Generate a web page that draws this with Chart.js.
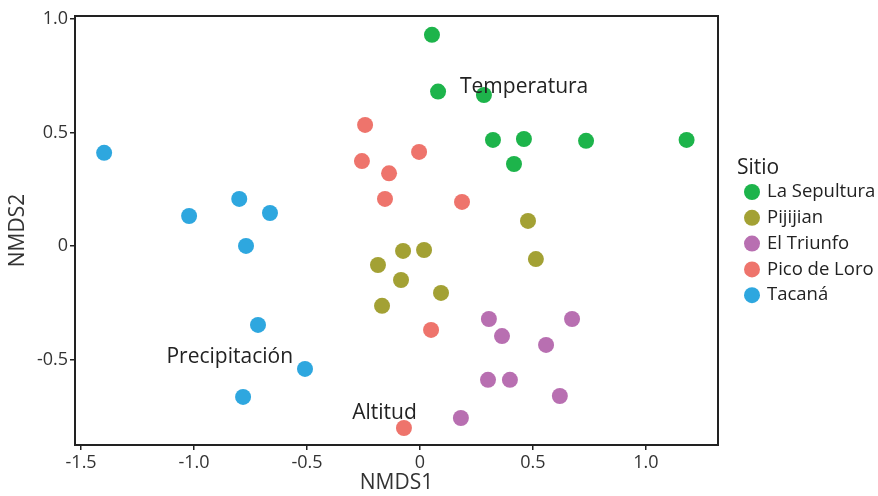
<!DOCTYPE html>
<html>
<head>
<meta charset="utf-8">
<script src="https://cdn.jsdelivr.net/npm/chart.js@4.4.1/dist/chart.umd.min.js"></script>
<style>
  html, body { margin: 0; padding: 0; background: #fff; }
  #wrap { width: 878px; height: 496px; }
</style>
</head>
<body>
<div id="wrap"><canvas id="nmds" width="878" height="496"></canvas></div>
<script>
// Sites and their colours (legend order)
const sites = ['La Sepultura', 'Pijijian', 'El Triunfo', 'Pico de Loro', 'Tacaná'];
const siteColors = ['#1db44b', '#a3a134', '#b86fb1', '#ee746c', '#2ea7df'];

// NMDS scores
const sepulturaX = [0.053, 0.08, 0.283, 0.323, 0.46, 0.735, 0.416, 1.18];
const sepulturaY = [0.93, 0.68, 0.665, 0.467, 0.471, 0.463, 0.361, 0.467];
const pijijianX = [0.478, -0.186, -0.075, 0.018, 0.513, -0.084, 0.093, -0.168];
const pijijianY = [0.11, -0.084, -0.022, -0.018, -0.058, -0.15, -0.207, -0.264];
const triunfoX = [0.305, 0.673, 0.363, 0.558, 0.301, 0.398, 0.619, 0.181];
const triunfoY = [-0.322, -0.322, -0.397, -0.436, -0.59, -0.59, -0.661, -0.758];
const picoX = [-0.243, -0.257, -0.137, -0.004, -0.155, 0.186, 0.049, -0.071];
const picoY = [0.533, 0.374, 0.32, 0.414, 0.207, 0.194, -0.37, -0.802];
const tacanaX = [-1.398, -1.022, -0.80, -0.664, -0.77, -0.717, -0.509, -0.783];
const tacanaY = [0.41, 0.132, 0.207, 0.145, 0.0, -0.348, -0.542, -0.665];

const siteX = [sepulturaX, pijijianX, triunfoX, picoX, tacanaX];
const siteY = [sepulturaY, pijijianY, triunfoY, picoY, tacanaY];

// Environmental vector labels (text, data x, data y, alignment)
const vectorLabels = ['Temperatura', 'Precipitación', 'Altitud'];
const vectorX = [0.177, -0.562, -0.30];
const vectorY = [0.70, -0.489, -0.735];
const vectorAlign = ['left', 'right', 'left'];

// Axis ticks
const xTicks = [-1.5, -1.0, -0.5, 0, 0.5, 1.0];
const xTickLabels = ['-1.5', '-1.0', '-0.5', '0', '0.5', '1.0'];
const yTicks = [-0.5, 0, 0.5, 1.0];
const yTickLabels = ['-0.5', '0', '0.5', '1.0'];

const FONT = "'Open Sans', 'DejaVu Sans', sans-serif";
const INK = '#222';

/**
 * Draws the black frame around the plot area and the vector labels.
 */
const framePlugin = {
  id: 'frame',
  afterDatasetsDraw(chart) {
    const { ctx, chartArea: a, scales } = chart;
    ctx.save();
    ctx.font = '21px ' + FONT;
    ctx.fillStyle = INK;
    ctx.textBaseline = 'middle';
    vectorLabels.forEach((txt, i) => {
      ctx.textAlign = vectorAlign[i];
      ctx.fillText(txt, scales.x.getPixelForValue(vectorX[i]), scales.y.getPixelForValue(vectorY[i]));
    });
    ctx.strokeStyle = INK;
    ctx.lineWidth = 2;
    ctx.strokeRect(a.left, a.top, a.right - a.left, a.bottom - a.top);
    ctx.restore();
  }
};

/**
 * Legend on the right, drawn from the datasets.
 */
const sideLegend = {
  id: 'sideLegend',
  afterDraw(chart) {
    const ctx = chart.ctx;
    const x0 = chart.chartArea.right + 19;
    ctx.save();
    ctx.fillStyle = INK;
    ctx.textAlign = 'left';
    ctx.textBaseline = 'middle';
    ctx.font = '21px ' + FONT;
    ctx.fillText('Sitio', x0, 168);
    ctx.font = '18.5px ' + FONT;
    chart.data.datasets.forEach((ds, i) => {
      const y = 192 + i * 25.8;
      ctx.fillStyle = ds.backgroundColor;
      ctx.beginPath();
      ctx.arc(x0 + 15, y, 8, 0, Math.PI * 2);
      ctx.fill();
      ctx.fillStyle = INK;
      ctx.fillText(ds.label, x0 + 30, y);
    });
    ctx.restore();
  }
};

const datasets = sites.map((name, i) => ({
  label: name,
  data: siteX[i].map((x, j) => ({ x: x, y: siteY[i][j] })),
  backgroundColor: siteColors[i],
  borderWidth: 0,
  pointRadius: 8,
  pointHoverRadius: 8
}));

new Chart(document.getElementById('nmds'), {
  type: 'scatter',
  data: { datasets },
  options: {
    responsive: false,
    animation: false,
    layout: { padding: { top: 16, right: 160, left: 0, bottom: 0 } },
    plugins: {
      legend: { display: false },
      tooltip: { enabled: false }
    },
    scales: {
      x: {
        type: 'linear',
        min: -1.527,
        max: 1.319,
        afterBuildTicks: axis => { axis.ticks = xTicks.map(v => ({ value: v })); },
        afterFit: axis => { axis.height = 51; },
        border: { display: false },
        grid: { drawOnChartArea: false, drawTicks: true, tickLength: 5, color: INK, lineWidth: 1.5 },
        ticks: {
          color: '#333',
          font: { family: FONT, size: 18 },
          padding: 2,
          maxRotation: 0,
          callback: (v) => xTickLabels[xTicks.indexOf(v)]
        },
        title: { display: true, text: 'NMDS1', color: '#333', font: { family: FONT, size: 21 }, padding: { top: 0, bottom: 0 } }
      },
      y: {
        type: 'linear',
        min: -0.877,
        max: 1.013,
        afterBuildTicks: axis => { axis.ticks = yTicks.map(v => ({ value: v })); },
        afterFit: axis => { axis.width = 75; },
        border: { display: false },
        grid: { drawOnChartArea: false, drawTicks: true, tickLength: 5, color: INK, lineWidth: 1.5 },
        ticks: {
          color: '#333',
          font: { family: FONT, size: 18 },
          padding: 2,
          callback: (v) => yTickLabels[yTicks.indexOf(v)]
        },
        title: { display: true, text: 'NMDS2', color: '#333', font: { family: FONT, size: 21 }, padding: { top: 5, bottom: 0 } }
      }
    }
  },
  plugins: [framePlugin, sideLegend]
});
</script>
</body>
</html>
